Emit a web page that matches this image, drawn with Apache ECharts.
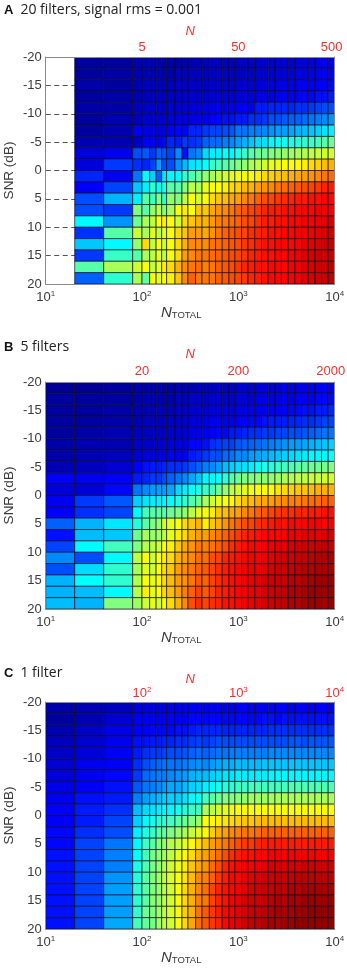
<!DOCTYPE html>
<html>
<head>
<meta charset="utf-8">
<style>html,body{margin:0;padding:0;background:#fff}#c{width:347px;height:970px}</style>
<script src="https://cdn.jsdelivr.net/npm/echarts@6/dist/echarts.min.js"></script>
</head>
<body>
<div id="c"></div>
<script>
// N_TOTAL bin edges (33 columns)
var xEdges = [10,20,40,80,100,120,140,160,180,220,260,300,360,420,500,580,680,800,920,1080,1260,1480,1740,2040,2400,2800,3300,3860,4540,5320,6240,7300,8560,10000];
// SNR bin edges (20 rows)
var snrEdges = [-20,-18,-16,-14,-12,-10,-8,-6,-4,-2,0,2,4,6,8,10,12,14,16,18,20];
var snrTicks = [-20,-15,-10,-5,0,5,10,15,20];
var bottomTickLabels = ['1','2','3','4'];
var topLabelsA = ['', '5', '50', '500'];
var topLabelsB = ['', '20', '200', '2000'];
var topLabelsC = ['', '10^2', '10^3', '10^4'];
var panelTitles = ['20 filters, signal rms = 0.001', '5 filters', '1 filter'];
var panelLetters = ['A', 'B', 'C'];

// Colour index (0-100 on the jet scale) per SNR row, per N_TOTAL column
var panelA = [
[null,3,3,5,5,5,5,4,4,4,5,5,5,6,6,6,6,6,6,7,7,7,8,8,8,8,9,9,9,10,10,11,11],
[null,3,4,5,5,5,5,5,5,6,6,6,6,6,6,7,7,7,7,7,8,8,8,9,9,9,10,10,10,11,11,12,12],
[null,4,3,5,6,6,6,6,6,7,7,7,7,7,7,7,8,8,8,8,9,9,9,10,10,10,11,11,12,12,12,12,13],
[null,3,4,5,6,6,7,6,7,7,8,8,7,8,8,8,9,9,9,9,10,10,10,10,11,11,12,12,13,13,14,14,15],
[null,4,4,6,7,7,8,7,8,8,9,9,9,10,10,11,11,12,12,12,12,15,15,16,16,16,16,17,17,18,19,20,20],
[null,3,5,6,8,8,8,9,9,10,10,10,10,11,12,13,14,14,15,15,17,17,18,20,20,21,22,22,23,24,25,26,27],
[null,3,5,11,10,10,10,10,12,13,13,16,16,18,19,19,20,21,24,24,25,25,26,27,28,28,29,30,31,32,33,35,36],
[null,5,5,7,12,12,11,13,16,15,18,17,18,22,23,23,25,26,28,30,32,34,35,37,38,39,40,41,42,43,44,46,48],
[null,9,11,20,21,18,22,21,19,26,14,24,26,34,36,36,38,37,40,43,46,48,48,50,51,52,53,54,55,56,57,58,58],
[null,9,18,17,16,19,28,20,20,27,31,35,36,38,42,44,46,48,50,52,54,56,58,60,61,62,62,63,64,66,67,69,70],
[null,16,11,24,37,33,22,35,37,37,42,45,48,52,54,56,58,60,61,62,62,64,66,67,68,69,70,71,72,73,74,76,77],
[null,12,19,32,36,42,38,40,46,46,50,56,54,60,62,62,64,66,67,69,70,72,73,74,76,77,78,79,80,81,82,84,85],
[null,20,30,36,46,44,50,42,52,50,56,62,58,62,66,68,69,71,72,74,76,78,80,81,82,83,84,85,85,86,86,87,87],
[null,20,18,50,46,52,56,50,54,62,64,62,68,68,71,73,74,76,78,79,81,82,84,85,85,86,86,87,87,87,88,88,88],
[null,37,27,48,54,56,62,64,62,58,66,68,70,70,72,75,76,77,78,80,81,83,85,85,86,86,87,87,88,88,89,90,91],
[null,17,46,57,54,60,56,60,62,66,68,72,72,71,73,76,78,79,80,81,83,84,85,86,86,87,87,88,88,89,90,91,92],
[null,32,37,52,66,56,62,58,62,66,70,74,74,74,76,77,78,79,80,82,83,85,86,86,87,87,87,88,89,90,91,92,93],
[null,18,43,46,54,56,60,56,62,66,72,74,76,76,77,78,79,80,81,82,84,85,86,86,87,87,88,89,90,91,92,92,93],
[null,46,54,58,62,56,60,64,66,70,74,76,77,75,76,78,79,80,82,84,85,86,86,87,87,87,88,89,90,91,92,92,94],
[null,22,42,54,47,62,60,62,64,68,74,78,76,76,76,78,79,80,81,82,84,85,86,87,87,87,88,89,90,91,92,93,94]
];
var panelB = [
[2,2,3,4,4,4,4,4,5,5,5,5,6,6,6,7,7,7,8,8,8,9,9,9,9,10,10,10,11,11,11,12,12],
[3,3,3,4,5,5,5,5,5,6,6,7,7,7,8,8,8,8,9,9,9,10,10,10,10,11,11,12,12,12,13,13,13],
[3,3,4,5,5,5,6,6,6,7,7,8,8,8,9,9,10,10,10,10,11,11,11,12,12,12,13,13,14,14,15,15,16],
[3,3,4,5,6,6,6,7,7,7,8,9,9,10,11,11,11,11,12,12,13,13,14,15,15,15,16,16,17,17,18,19,19],
[3,4,5,6,6,7,7,7,8,8,9,10,10,12,12,13,13,15,15,16,17,17,18,18,19,19,20,20,21,22,23,24,24],
[4,5,5,7,7,8,8,9,9,10,10,13,13,14,17,18,19,19,21,22,22,23,24,25,26,27,28,28,29,30,31,32,33],
[4,5,6,8,9,9,10,10,11,11,12,15,16,18,20,20,23,24,26,26,28,29,30,31,32,33,34,35,36,37,37,37,38],
[5,6,8,12,14,15,15,16,17,17,18,20,22,25,26,28,31,33,34,35,36,38,40,41,43,44,45,46,47,48,48,49,50],
[12,11,12,15,16,18,18,20,22,24,26,29,32,37,37,38,42,46,48,50,50,51,51,52,53,54,55,56,56,57,57,58,58],
[9,9,13,24,26,28,28,28,29,34,36,38,40,43,44,48,52,56,58,60,61,62,62,63,65,66,67,68,68,69,70,70,70],
[11,18,21,33,35,36,36,37,38,40,42,45,48,54,58,60,62,63,66,68,69,71,71,72,73,74,75,75,76,77,77,78,78],
[12,17,19,37,44,46,46,46,48,50,52,56,60,62,64,68,69,71,72,74,76,78,79,81,82,83,83,84,84,85,85,86,86],
[22,30,35,41,46,50,52,58,60,62,66,68,70,64,68,70,73,76,78,80,81,83,84,85,86,86,87,87,87,88,88,87,88],
[14,31,32,48,54,52,53,56,60,64,66,70,72,72,74,76,78,80,82,84,85,86,87,87,87,88,89,89,90,90,90,91,91],
[19,37,44,50,55,56,57,62,64,68,71,73,76,75,76,78,80,83,85,86,87,87,88,89,90,90,91,92,92,92,93,94,93],
[26,20,37,56,62,57,62,64,66,70,72,74,77,77,80,81,84,85,86,87,88,88,89,90,91,92,92,93,93,94,95,95,96],
[20,34,42,54,60,57,62,66,68,72,74,76,78,79,81,83,85,86,87,88,89,89,90,91,92,93,93,94,95,95,96,96,96],
[30,38,42,55,62,60,63,66,69,72,73,76,79,78,81,83,85,86,87,88,89,90,91,92,93,93,94,94,95,96,97,97,97],
[30,31,37,55,64,60,62,66,69,72,75,78,81,79,81,84,85,86,87,88,89,90,91,92,93,94,95,95,96,97,97,97,97],
[31,30,50,53,58,60,58,62,66,70,74,80,83,81,83,84,86,86,87,88,89,90,91,92,93,94,95,95,96,97,97,96,97]
];
var panelC = [
[4,5,6,9,9,10,10,10,10,11,11,11,11,11,11,11,11,11,12,12,11,11,11,12,12,12,12,12,12,12,12,12,12],
[3,5,8,11,11,11,11,12,12,12,12,13,13,13,13,13,13,13,13,13,13,13,14,14,13,14,14,14,14,14,14,14,14],
[5,7,10,12,12,13,13,13,13,14,14,15,16,16,16,16,16,16,16,16,16,16,16,17,17,17,17,17,17,17,17,17,17],
[6,8,11,14,14,15,15,16,16,17,17,18,19,18,19,20,20,20,20,20,20,20,20,20,20,20,21,21,20,21,21,21,21],
[7,9,12,15,17,18,18,19,20,20,21,22,23,22,23,24,24,25,25,25,25,25,25,26,26,26,26,26,26,26,26,26,26],
[8,11,12,17,20,22,23,24,24,24,25,26,27,26,28,29,30,30,31,31,31,31,32,32,32,32,32,32,32,32,32,32,32],
[9,11,13,18,23,24,25,25,26,27,28,30,31,31,33,34,35,35,36,36,36,36,36,37,37,37,37,37,37,37,37,37,37],
[10,12,14,21,24,25,26,28,29,29,31,33,34,36,37,39,41,42,43,43,44,44,44,44,44,44,45,45,45,45,45,45,45],
[11,14,15,25,28,30,31,33,33,33,35,37,38,44,46,48,50,50,51,52,53,53,53,53,54,54,54,54,54,54,54,54,54],
[12,15,17,31,34,35,36,37,37,39,41,43,44,54,56,58,60,61,62,62,62,62,62,62,62,62,62,62,62,62,62,62,62],
[12,15,19,33,37,39,41,42,44,46,48,50,52,62,63,64,65,66,67,68,68,69,69,69,69,69,69,69,69,69,69,69,69],
[13,17,20,36,40,43,46,47,50,52,54,57,60,63,67,70,72,74,75,76,76,77,78,78,78,78,78,78,78,78,78,78,78],
[13,19,24,37,43,46,50,52,55,57,60,63,66,69,72,74,76,78,80,82,82,84,85,85,85,85,85,85,85,85,85,85,85],
[14,19,25,38,44,49,51,53,56,60,63,66,70,72,74,77,80,83,85,86,86,87,87,88,88,88,88,88,88,88,88,88,88],
[14,19,25,40,45,49,52,55,58,61,64,68,71,73,77,80,84,86,87,88,88,89,90,91,91,91,91,91,92,92,92,92,92],
[14,19,27,41,46,50,53,56,59,62,65,69,74,75,78,82,85,87,87,89,90,91,92,92,93,93,93,94,94,94,94,94,94],
[14,19,28,42,46,50,52,56,58,62,66,70,74,77,81,84,86,87,88,90,91,92,93,93,94,94,95,95,96,96,96,96,96],
[14,19,28,42,46,51,52,56,58,63,66,70,75,76,81,84,86,88,89,91,92,92,93,94,95,95,96,96,97,97,97,97,97],
[14,19,28,42,48,50,53,56,59,63,67,70,76,79,82,85,87,88,90,91,92,93,94,95,96,96,96,97,97,98,98,98,98],
[14,19,29,44,47,49,53,56,58,62,66,71,77,79,82,84,87,89,90,92,93,94,95,96,96,97,97,98,98,98,98,98,98]
];

var panelValues = [panelA, panelB, panelC];
var topLabelSets = [topLabelsA, topLabelsB, topLabelsC];
var jetStops = ['#000080','#0000ff','#0080ff','#00ffff','#80ff80','#ffff00','#ff8000','#ff0000','#800000'];
var gridTops = [57, 382, 702];
var gridHeights = [227, 227, 227];
var topNameGaps = [19, 21, 16];
var topLabelMargins = [3, 4, 2];
var titleTops = [1, 338, 664];
var topMaxPads = [6, 8, 0];

function cells(rows) {
  var out = [];
  rows.forEach(function (row, r) {
    row.forEach(function (v, c) {
      if (v === null) return;
      out.push([xEdges[c], xEdges[c + 1], snrEdges[r], snrEdges[r + 1], v]);
    });
  });
  return out;
}
function renderCell(params, api) {
  var p0 = api.coord([api.value(0), api.value(2)]);
  var p1 = api.coord([api.value(1), api.value(3)]);
  return {
    type: 'rect',
    shape: { x: p0[0], y: p0[1], width: p1[0] - p0[0], height: p1[1] - p0[1] },
    style: { fill: api.visual('color'), stroke: 'rgba(10,10,30,0.72)', lineWidth: 0.9 }
  };
}
var LABEL = '#3a3a3a', FRAME = '#8a8a8a', RED = '#ff2a2a', FONT = '"Liberation Sans", Arial, sans-serif';
var supRich = {
  e: { fontSize: 13, color: LABEL, fontFamily: FONT },
  s: { fontSize: 8, color: LABEL, fontFamily: FONT, verticalAlign: 'top', padding: [0, 0, 6, 0] }
};
var grids = [], xAxes = [], yAxes = [], series = [], titles = [];
panelValues.forEach(function (rows, g) {
  grids.push({ left: 45.7, width: 289, top: gridTops[g], height: gridHeights[g], outerBoundsMode: 'none', containLabel: false });
  var labels = topLabelSets[g];
  xAxes.push({
    type: 'log', logBase: 10, min: 10, max: 10000, gridIndex: g, position: 'bottom', z: 10,
    axisLine: { show: true, onZero: false, lineStyle: { color: FRAME, width: 1 } },
    axisTick: { show: false }, minorTick: { show: false }, splitLine: { show: false },
    axisLabel: {
      margin: 6, hideOverlap: false, showMinLabel: true, showMaxLabel: true,
      formatter: function (v) { return '{e|10}{s|' + bottomTickLabels[Math.round(Math.log10(v)) - 1] + '}'; },
      rich: supRich
    },
    name: '{i|N}{t|TOTAL}', nameLocation: 'middle', nameGap: 21, nameMoveOverlap: false,
    nameTextStyle: { padding: [0, 18, 0, 0], rich: {
      i: { fontSize: 15, fontStyle: 'italic', color: LABEL, fontFamily: FONT },
      t: { fontSize: 9.5, color: LABEL, fontFamily: FONT, verticalAlign: 'bottom', padding: [4, 0, 0, 0] }
    } }
  });
  xAxes.push({
    type: 'log', logBase: 10, min: 10, max: 10000, gridIndex: g, position: 'top', z: 10,
    axisLine: { show: true, onZero: false, lineStyle: { color: FRAME, width: 1 } },
    axisTick: { show: false }, minorTick: { show: false }, splitLine: { show: false },
    axisLabel: {
      margin: topLabelMargins[g], color: RED, fontSize: 13, fontFamily: FONT, hideOverlap: false, showMaxLabel: true,
      formatter: function (v) {
        var k = Math.round(Math.log10(v)), t = labels[k - 1];
        if (t.indexOf('^') > 0) return '{e|10}{s|' + t.split('^')[1] + '}';
        return k === 4 ? '{p|' + t + '}' : t;
      },
      rich: {
        e: { fontSize: 13, color: RED, fontFamily: FONT },
        s: { fontSize: 8, color: RED, fontFamily: FONT, verticalAlign: 'top', padding: [0, 0, 6, 0] },
        p: { fontSize: 13, color: RED, fontFamily: FONT, padding: [0, topMaxPads[g], 0, 0] }
      }
    },
    name: 'N', nameLocation: 'middle', nameGap: topNameGaps[g], nameMoveOverlap: false,
    nameTextStyle: { color: RED, fontSize: 13, fontStyle: 'italic', fontFamily: FONT }
  });
  yAxes.push({
    type: 'value', inverse: true, min: -20, max: 20, interval: 5, gridIndex: g, position: 'left', z: g === 0 ? 0 : 10,
    axisLine: { show: true, onZero: false, lineStyle: { color: FRAME, width: 1 } },
    axisTick: { show: false },
    splitLine: { show: g === 0, lineStyle: { color: '#555', type: [5, 3.5], width: 1 } },
    axisLabel: {
      margin: 4, color: LABEL, fontSize: 13, fontFamily: FONT, showMinLabel: true, showMaxLabel: true,
      customValues: snrTicks
    },
    name: 'SNR (dB)', nameLocation: 'middle', nameGap: 29, nameRotate: 90, nameMoveOverlap: false,
    nameTextStyle: { color: LABEL, fontSize: 13.5, fontFamily: FONT }
  });
  yAxes.push({
    type: 'value', inverse: true, min: -20, max: 20, interval: 5, gridIndex: g, position: 'right', z: 10,
    axisLine: { show: true, onZero: false, lineStyle: { color: FRAME, width: 1 } },
    axisTick: { show: false }, axisLabel: { show: false }, splitLine: { show: false }
  });
  series.push({
    type: 'custom', xAxisIndex: 2 * g, yAxisIndex: 2 * g, coordinateSystem: 'cartesian2d',
    renderItem: renderCell, data: cells(rows), encode: { x: [0, 1], y: [2, 3] }, silent: true, animation: false, clip: true
  });
  titles.push({
    text: '{b|' + panelLetters[g] + '} {t|' + panelTitles[g] + '}',
    left: 4, top: titleTops[g], padding: 0,
    textStyle: { fontWeight: 'normal', rich: {
      b: { fontSize: 13, fontWeight: 'bold', color: '#111', fontFamily: FONT, padding: [0, 2, 0, 0] },
      t: { fontSize: 14, fontWeight: 'normal', color: '#222', fontFamily: '"Open Sans", sans-serif' }
    } }
  });
});
var chart = echarts.init(document.getElementById('c'), null, { renderer: 'canvas' });
chart.setOption({
  animation: false,
  backgroundColor: '#ffffff',
  title: titles,
  grid: grids,
  xAxis: xAxes,
  yAxis: yAxes,
  visualMap: { show: false, type: 'continuous', min: 0, max: 100, dimension: 4, seriesIndex: [0, 1, 2], inRange: { color: jetStops } },
  series: series
});
</script>
</body>
</html>
